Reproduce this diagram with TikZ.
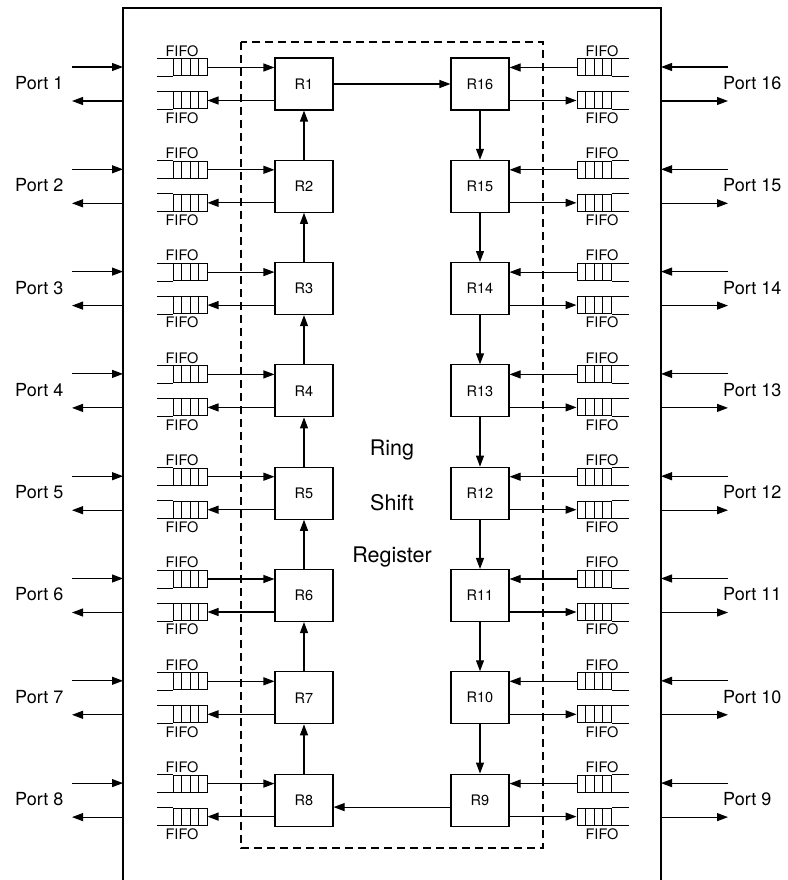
\documentclass[tikz,border=0pt]{standalone}
\usepackage{fontspec}
\setmainfont{TeX Gyre Heros}
\usetikzlibrary{arrows.meta}
\begin{document}
\begin{tikzpicture}[x=1pt,y=-1pt,
  arr/.style={-{Triangle[length=11pt,width=8pt]}, line width=1.1pt},
  rbox/.style={draw, line width=1.1pt, minimum width=58pt, minimum height=52pt, inner sep=0pt, font=\fontsize{14.5}{16}\selectfont},
  fifocells/.style={draw, line width=1pt, minimum width=34pt, minimum height=17pt, inner sep=0pt,
    path picture={\foreach \k in {1,2,3} \draw[line width=1pt] ([xshift=\k*8.5pt]path picture bounding box.south west) -- ([xshift=\k*8.5pt]path picture bounding box.north west);}},
  openline/.style={line width=1pt},
  fifolbl/.style={font=\fontsize{14.5}{16}\selectfont, inner sep=0pt},
  portlbl/.style={font=\fontsize{18}{20}\selectfont, inner sep=0pt, anchor=west},
  ringlbl/.style={font=\fontsize{21.5}{24}\selectfont, inner sep=0pt},
]
\useasboundingbox (0,0) rectangle (787,880);
\coordinate (boxL) at (123,8);
\coordinate (boxR) at (661,8);
\draw[line width=1.6pt] (123,880) -- (boxL) -- (boxR) -- (661,880);
\draw[dash pattern=on 8pt off 5pt, line width=1.1pt] (241,42) rectangle (543,848);

\foreach \i in {1,...,8}{
  \pgfmathsetmacro{\c}{84+(\i-1)*102.3}
  \pgfmathtruncatemacro{\j}{17-\i}
  \node[rbox] (R\i) at (304,\c) {R\i};
  \node[rbox] (R\j) at (480,\c) {R\j};
  % left FIFOs
  \node[fifocells] (FinL\i) at (190,\c-16.5) {};
  \node[fifocells] (FoutL\i) at (190,\c+16.5) {};
  \draw[openline] (FinL\i.north west) -- ++(-16,0);
  \draw[openline] (FinL\i.south west) -- ++(-16,0);
  \draw[openline] (FoutL\i.north west) -- ++(-16,0);
  \draw[openline] (FoutL\i.south west) -- ++(-16,0);
  \node[fifolbl] (FlblA\i) at (182,\c-33) {FIFO};
  \node[fifolbl] (FlblB\i) at (182,\c+34) {FIFO};
  % right FIFOs
  \node[fifocells] (FinR\j) at (594,\c-16.5) {};
  \node[fifocells] (FoutR\j) at (594,\c+16.5) {};
  \draw[openline] (FinR\j.north east) -- ++(17,0);
  \draw[openline] (FinR\j.south east) -- ++(17,0);
  \draw[openline] (FoutR\j.north east) -- ++(17,0);
  \draw[openline] (FoutR\j.south east) -- ++(17,0);
  \node[fifolbl] (FlblC\j) at (602,\c-33) {FIFO};
  \node[fifolbl] (FlblD\j) at (602,\c+34) {FIFO};
  % FIFO <-> router connectors
  \draw[arr] (FinL\i.east) -- (FinL\i.east -| R\i.west);
  \draw[arr] (R\i.west |- FoutL\i.east) -- (FoutL\i.east);
  \draw[arr] (FinR\j.west) -- (FinR\j.west -| R\j.east);
  \draw[arr] (R\j.east |- FoutR\j.west) -- (FoutR\j.west);
  % ports
  \node[portlbl] (PL\i) at (15,\c-1) {Port \i};
  \node[portlbl] (PR\j) at (723,\c-1) {Port \j};
  \coordinate (PLin\i) at (72,\c-17);
  \coordinate (PLout\i) at (72,\c+17);
  \coordinate (PRin\j) at (728,\c-17);
  \coordinate (PRout\j) at (728,\c+17);
  \draw[arr] (PLin\i) -- (PLin\i -| boxL);
  \draw[arr] (PLout\i -| boxL) -- (PLout\i);
  \draw[arr] (PRin\j) -- (PRin\j -| boxR);
  \draw[arr] (PRout\j -| boxR) -- (PRout\j);
}

% ring connections
\foreach \i [evaluate=\i as \k using int(\i-1)] in {2,...,8}
  \draw[arr] (R\i.north) -- (R\k.south);
\foreach \i [evaluate=\i as \k using int(\i-1)] in {16,15,...,10}
  \draw[arr] (R\i.south) -- (R\k.north);
\draw[arr] (R1.east) -- (R16.west);
\draw[arr] ([yshift=-7pt]R9.west) -- ([yshift=-7pt]R8.east);

\node[ringlbl] (ring) at (392,450) {Ring};
\node[ringlbl] (shift) at (392,503) {Shift};
\node[ringlbl] (register) at (392,557) {Register};
\end{tikzpicture}
\end{document}
